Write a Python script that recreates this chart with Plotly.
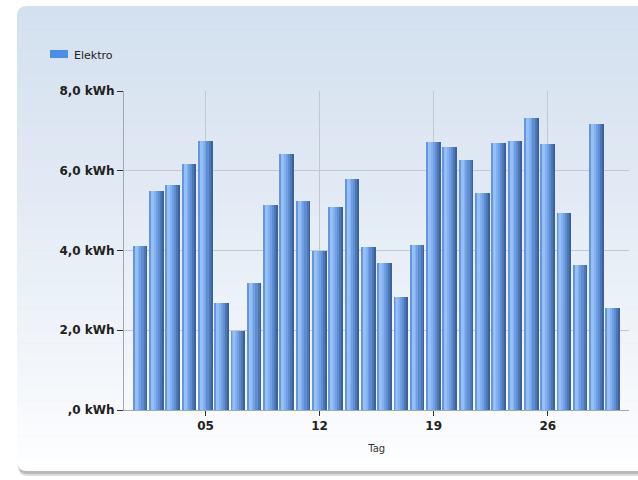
import plotly.graph_objects as go

# ---- data ----
days = list(range(1, 31))
kwh = [4.11, 5.49, 5.65, 6.17, 6.74, 2.68, 1.98, 3.19, 5.14, 6.42,
       5.25, 4.00, 5.09, 5.79, 4.08, 3.68, 2.84, 4.14, 6.72, 6.60,
       6.27, 5.44, 6.69, 6.74, 7.33, 6.66, 4.95, 3.63, 7.18, 2.57]
series_name = "Elektro"
x_tick_vals = [5, 12, 19, 26]
x_tick_text = ["05", "12", "19", "26"]
y_tick_vals = [0, 2, 4, 6, 8]
y_tick_text = [",0 kWh", "2,0 kWh", "4,0 kWh", "6,0 kWh", "8,0 kWh"]
x_title = "Tag"

W, H = 638, 480
OFF = 0  # body margin removed via post_script


def px(x):
    return (x - OFF) / W


def py(y):
    return (H - (y - OFF)) / H


def hexmix(c1, c2, t):
    a = [int(c1[i:i + 2], 16) for i in (1, 3, 5)]
    b = [int(c2[i:i + 2], 16) for i in (1, 3, 5)]
    return "#" + "".join(f"{round(a[k] + (b[k] - a[k]) * t):02x}" for k in range(3))


def grad(y):
    stops = [(6, "#d3e0ef"), (210, "#e3ebf5"), (471, "#fdfeff")]
    for (y0, c0), (y1, c1) in zip(stops, stops[1:]):
        if y <= y1:
            return hexmix(c0, c1, max(0.0, (y - y0) / (y1 - y0)))
    return stops[-1][1]


shapes = []
# card shadow
for off, col in [(5, "rgba(120,120,120,0.25)"), (3, "rgba(120,120,120,0.35)")]:
    x0, x1, y0, y1, r = 17 + 1, 660, 6 + off, 471 + off, 10
    path = (f"M {px(x0 + r)},{py(y0)} L {px(x1)},{py(y0)} L {px(x1)},{py(y1)} "
            f"L {px(x0 + r)},{py(y1)} Q {px(x0)},{py(y1)} {px(x0)},{py(y1 - r)} "
            f"L {px(x0)},{py(y0 + r)} Q {px(x0)},{py(y0)} {px(x0 + r)},{py(y0)} Z")
    shapes.append(dict(type="path", xref="paper", yref="paper", path=path,
                       fillcolor=col, line=dict(width=0), layer="below"))

# card gradient bands
cx0, cx1, cy0, cy1, r = 17, 660, 6, 471, 10
n = 40
hband = (cy1 - cy0) / n
for i in range(n):
    ya = cy0 + i * hband
    yb = cy0 + (i + 1) * hband + 0.6
    col = grad((ya + yb) / 2)
    if i == 0:
        path = (f"M {px(cx0 + r)},{py(ya)} L {px(cx1)},{py(ya)} L {px(cx1)},{py(yb)} "
                f"L {px(cx0)},{py(yb)} L {px(cx0)},{py(ya + r)} "
                f"Q {px(cx0)},{py(ya)} {px(cx0 + r)},{py(ya)} Z")
    elif i == n - 1:
        yb = cy1
        path = (f"M {px(cx0)},{py(ya)} L {px(cx1)},{py(ya)} L {px(cx1)},{py(yb)} "
                f"L {px(cx0 + r)},{py(yb)} Q {px(cx0)},{py(yb)} {px(cx0)},{py(yb - r)} Z")
    else:
        path = (f"M {px(cx0)},{py(ya)} L {px(cx1)},{py(ya)} L {px(cx1)},{py(yb)} "
                f"L {px(cx0)},{py(yb)} Z")
    shapes.append(dict(type="path", xref="paper", yref="paper", path=path,
                       fillcolor=col, line=dict(width=0), layer="below"))

# legend swatch
shapes.append(dict(type="rect", xref="paper", yref="paper",
                   x0=px(50), x1=px(68), y0=py(50), y1=py(58),
                   fillcolor="#4a8ee8", line=dict(width=0), layer="above"))

fig = go.Figure()

# layered bars to mimic a cylindrical gradient
layers = [
    (-0.43, 0.86, "#3d6199"),
    (-0.43, 0.75, "#4d77b6"),
    (-0.43, 0.63, "#5f8dd2"),
    (-0.43, 0.49, "#70a0e4"),
    (-0.40, 0.34, "#83b1f0"),
    (-0.34, 0.18, "#94bff7"),
    (-0.43, 0.05, "#6796dc"),
]
for off, wd, col in layers:
    fig.add_trace(go.Bar(
        x=days, y=kwh, offset=off, width=wd, name=series_name,
        marker=dict(color=col, line=dict(width=0)),
        showlegend=False, hoverinfo="skip",
    ))

font_family = "DejaVu Sans"
fig.update_layout(
    width=W, height=H,
    margin=dict(l=0, r=0, t=0, b=0),
    paper_bgcolor="#ffffff",
    plot_bgcolor="rgba(0,0,0,0)",
    barmode="overlay",
    bargap=0,
    showlegend=False,
    shapes=shapes,
    annotations=[dict(
        text=series_name, xref="paper", yref="paper", x=px(72), y=py(55),
        xanchor="left", yanchor="middle", showarrow=False,
        font=dict(family=font_family, size=11, color="#222222"),
    )],
    xaxis=dict(
        domain=[px(124), px(629.3)], range=[0, 31],
        tickmode="array", tickvals=x_tick_vals, ticktext=x_tick_text,
        showgrid=True, gridcolor="#c2c8d2", gridwidth=1,
        showline=True, linecolor="#a2a8b0", linewidth=1,
        ticks="outside", ticklen=5, tickcolor="#333333", tickwidth=1,
        tickfont=dict(family=font_family, size=12, color="#222222", weight="bold"),
        title=dict(text=x_title, font=dict(family=font_family, size=10, color="#333333"),
                   standoff=12),
        zeroline=False, automargin=False, fixedrange=True,
    ),
    yaxis=dict(
        domain=[py(410), py(91)], range=[0, 8],
        tickmode="array", tickvals=y_tick_vals, ticktext=y_tick_text,
        showgrid=True, gridcolor="#c2c8d2", gridwidth=1,
        showline=True, linecolor="#a2a8b0", linewidth=1,
        ticks="outside", ticklen=6, tickcolor="#333333", tickwidth=1,
        tickfont=dict(family=font_family, size=12, color="#222222", weight="bold"),
        zeroline=False, automargin=False, fixedrange=True,
    ),
)

fig.write_html(
    "out.html",
    config={"displayModeBar": False},
    post_script="document.body.style.margin='0px';document.body.style.overflow='hidden';",
)
